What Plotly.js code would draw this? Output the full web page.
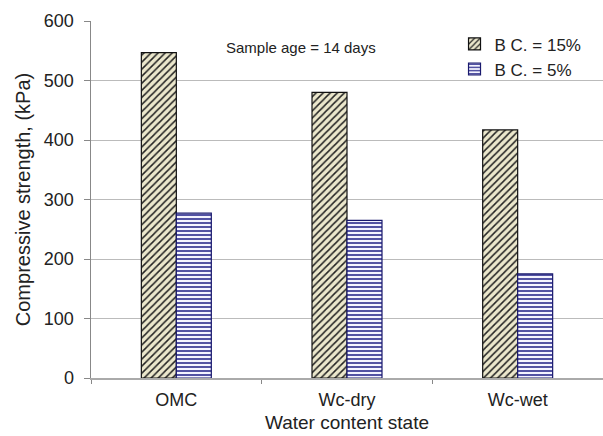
<!DOCTYPE html>
<html>
<head>
<meta charset="utf-8">
<script src="https://cdn.plot.ly/plotly-3.0.1.min.js"></script>
<style>html,body{margin:0;padding:0;background:#fff;}#chart{width:603px;height:436px;}</style>
</head>
<body>
<div id="chart"></div>
<script>
const categories = ["OMC", "Wc-dry", "Wc-wet"];
const seriesNames = ["B C. = 15%", "B C. = 5%"];
const bc15 = [547, 480, 417];
const bc5 = [277, 265, 175];
const yTicks = [0, 100, 200, 300, 400, 500, 600];

const font = "Liberation Sans, Arial, sans-serif";

const traces = [
  {
    type: "bar", x: categories, y: bc15, name: seriesNames[0],
    marker: {
      color: "#e9e6cf",
      line: {color: "#111", width: 1.2},
      pattern: {shape: "/", fgcolor: "#222", bgcolor: "#ebe7cc", size: 5, solidity: 0.3}
    }
  },
  {
    type: "bar", x: categories, y: bc5, name: seriesNames[1],
    marker: {
      color: "#ffffff",
      line: {color: "#1a1a6e", width: 1.2},
      pattern: {shape: "-", fgcolor: "#2a2a8c", bgcolor: "#f4f4ff", size: 4, solidity: 0.4}
    }
  }
];

const layout = {
  width: 603, height: 436,
  margin: {l: 91, r: 0, t: 21, b: 58},
  paper_bgcolor: "#fff", plot_bgcolor: "#fff",
  barmode: "group", bargap: 0.59, bargroupgap: 0,
  font: {family: font, size: 18, color: "#222"},
  showlegend: true,
  legend: {
    x: 0.71, y: 0.985, xanchor: "left", yanchor: "top",
    bgcolor: "rgba(0,0,0,0)", font: {family: font, size: 17, color: "#222"},
    tracegroupgap: 0, itemwidth: 30, traceorder: "normal"
  },
  xaxis: {
    type: "category", tickson: "boundaries", ticks: "outside", ticklen: 4,
    tickcolor: "#888", showline: true, linecolor: "#aaa", linewidth: 1.5,
    showgrid: false, tickfont: {family: font, size: 18, color: "#222"},
    ticklabelstandoff: 5,
    title: {text: "Water content state", font: {family: font, size: 19, color: "#222"}, standoff: 6}
  },
  yaxis: {
    range: [0, 600], tickvals: yTicks, ticks: "outside", ticklen: 6, tickcolor: "#888",
    showline: true, linecolor: "#888", linewidth: 1.5,
    showgrid: true, gridcolor: "#bbb", gridwidth: 1, zeroline: false,
    tickfont: {family: font, size: 18, color: "#222"},
    ticklabelstandoff: 6,
    title: {text: "Compressive strength, (kPa)", font: {family: font, size: 20, color: "#222"}, standoff: 8}
  },
  annotations: [{
    text: "Sample age = 14 days", xref: "paper", yref: "paper",
    x: 0.41, y: 0.927, xanchor: "center", yanchor: "middle",
    showarrow: false, font: {family: font, size: 15, color: "#222"}
  }]
};

Plotly.newPlot("chart", traces, layout, {displayModeBar: false, staticPlot: true});
</script>
</body>
</html>
